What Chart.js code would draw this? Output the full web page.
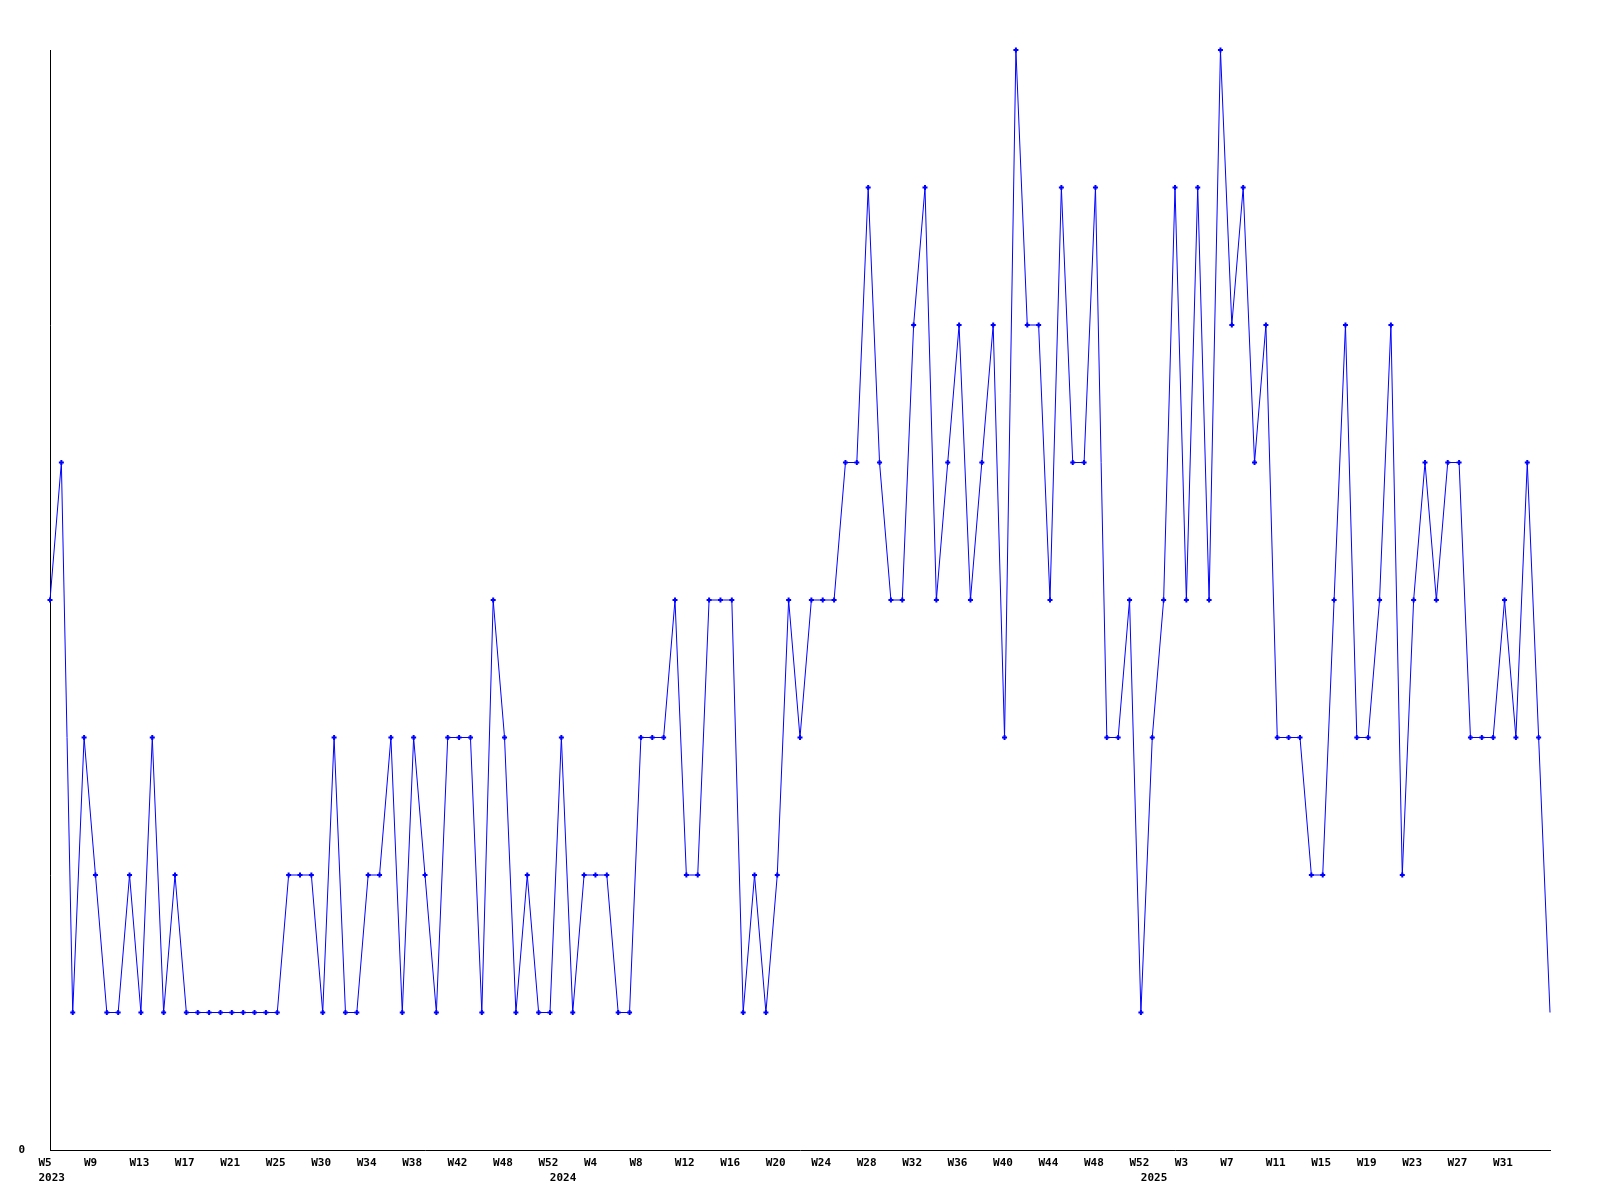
<!DOCTYPE html>
<html>
<head>
<meta charset="utf-8">
<script src="https://cdn.jsdelivr.net/npm/chart.js@4.4.1/dist/chart.umd.min.js"></script>
<style>
  html, body { margin: 0; padding: 0; background: #fff; }
  canvas { display: block; }
</style>
</head>
<body>
<canvas id="chart" width="1600" height="1200"></canvas>
<script>
// weekly counts, one per point, from 2023 W5 onwards
const values = [
  4, 5, 1, 3, 2, 1, 1, 2, 1, 3,
  1, 2, 1, 1, 1, 1, 1, 1, 1, 1,
  1, 2, 2, 2, 1, 3, 1, 1, 2, 2,
  3, 1, 3, 2, 1, 3, 3, 3, 1, 4,
  3, 1, 2, 1, 1, 3, 1, 2, 2, 2,
  1, 1, 3, 3, 3, 4, 2, 2, 4, 4,
  4, 1, 2, 1, 2, 4, 3, 4, 4, 4,
  5, 5, 7, 5, 4, 4, 6, 7, 4, 5,
  6, 4, 5, 6, 3, 8, 6, 6, 4, 7,
  5, 5, 7, 3, 3, 4, 1, 3, 4, 7,
  4, 7, 4, 8, 6, 7, 5, 6, 3, 3,
  3, 2, 2, 4, 6, 3, 3, 4, 6, 2,
  4, 5, 4, 5, 5, 3, 3, 3, 4, 3,
  5, 3, 1
];

// a week label on every 4th point
const weekTicks = [
  'W5', 'W9', 'W13', 'W17', 'W21', 'W25', 'W30', 'W34', 'W38', 'W42', 'W48', 'W52',
  'W4', 'W8', 'W12', 'W16', 'W20', 'W24', 'W28', 'W32', 'W36', 'W40', 'W44', 'W48', 'W52',
  'W3', 'W7', 'W11', 'W15', 'W19', 'W23', 'W27', 'W31'
];
const tickEvery = 4;

// point index where each year starts
const yearStarts = [0, 45, 97];
const years = ['2023', '2024', '2025'];

const categories = values.map((v, i) => {
  const week = i % tickEvery === 0 ? (weekTicks[i / tickEvery] || '') : '';
  const y = yearStarts.indexOf(i);
  if (y >= 0) return [week, years[y]];
  return week;
});

const tickFont = { family: 'DejaVu Sans Mono', weight: 'bold', size: 11, lineHeight: '15px' };

new Chart(document.getElementById('chart'), {
  type: 'line',
  data: {
    labels: categories,
    datasets: [
      {
        data: values,
        borderColor: '#0000ff',
        borderWidth: 1,
        tension: 0,
        fill: false,
        clip: false,
        pointStyle: 'cross',
        pointRadius: values.map((v, i) => (i === values.length - 1 ? 0 : 2.5)),
        pointBorderColor: '#0000ff',
        pointBorderWidth: 2,
      },
    ],
  },
  options: {
    responsive: false,
    animation: false,
    devicePixelRatio: 1,
    layout: { padding: { top: 50, right: 50, bottom: 0, left: 0 } },
    plugins: {
      legend: { display: false },
      tooltip: { enabled: false },
    },
    scales: {
      x: {
        type: 'category',
        offset: false,
        grid: { display: false },
        border: { display: true, color: '#000', width: 1 },
        ticks: {
          autoSkip: false,
          maxRotation: 0,
          minRotation: 0,
          align: 'start',
          labelOffset: -11.5,
          padding: -2,
          color: '#000',
          font: tickFont,
        },
        afterFit: (s) => {
          s.height = 50;
        },
      },
      y: {
        min: 0,
        max: 8,
        grid: { display: false },
        border: { display: true, color: '#000', width: 1 },
        afterBuildTicks: (s) => {
          s.ticks = [{ value: 0 }];
        },
        ticks: {
          padding: 17,
          color: '#000',
          font: tickFont,
        },
        afterFit: (s) => {
          s.width = 50;
        },
      },
    },
  },
});
</script>
</body>
</html>
